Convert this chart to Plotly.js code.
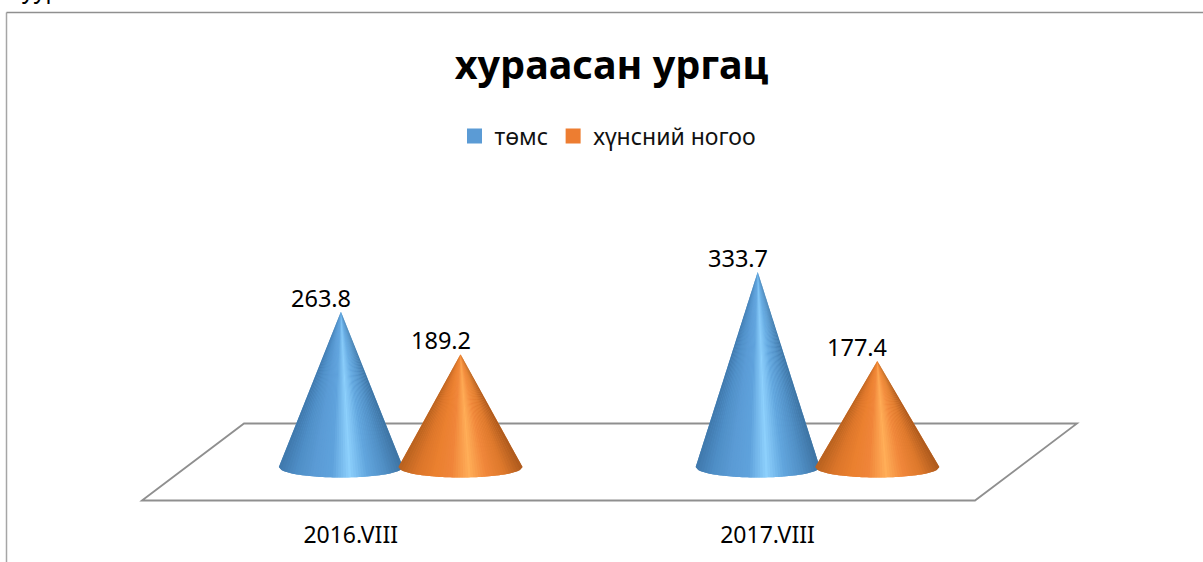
<!DOCTYPE html>
<html>
<head>
<meta charset="utf-8">
<script src="https://cdn.plot.ly/plotly-3.0.1.min.js"></script>
<style>html,body{margin:0;padding:0;background:#fff;overflow:hidden}</style>
</head>
<body>
<div id="chart" style="width:1203px;height:562px"></div>
<script>
var categories = ['2016.VIII', '2017.VIII'];
var seriesNames = ['төмс', 'хүнсний ногоо'];
var potatoValues = [263.8, 333.7];
var vegetableValues = [189.2, 177.4];
var legendColors = ['#5B9BD5', '#ED7D31'];
var blueShades = ['#3F78AC', '#4F8FC7', '#5B9BD5', '#5FA2DC', '#8DD0FC', '#62A6DE', '#5190C6', '#3E74A4'];
var orangeShades = ['#B8621F', '#DB752A', '#EA802F', '#F0853A', '#FFAE58', '#F0863A', '#DD792C', '#AE5A1D'];

var W = 1203, H = 562;
var pxPerCat = 416.8, cat0Px = 400.7, zeroPx = 462, pxPerVal = 0.5694, plotBottom = 516;
var fontFam = "'Noto Sans', sans-serif";

function hex(c){return [1,3,5].map(function(i){return parseInt(c.substr(i,2),16);});}
function shade(list,f){
  var p=f*(list.length-1),i=Math.min(Math.floor(p),list.length-2),t=p-i,a=hex(list[i]),b=hex(list[i+1]);
  return 'rgb('+a.map(function(v,k){return Math.round(v+(b[k]-v)*t);}).join(',')+')';
}
var traces = [];
var halfW = 62/pxPerCat, groupOff = 59.8/pxPerCat, baseY = -5/pxPerVal, ry = 10.5/pxPerVal, N = 48;
function arcY(a){return baseY-ry*Math.sqrt(Math.max(0,1-a*a));}
function cone(xc,val,shades){
  var sx=[xc],sy=[val];
  for(var k=0;k<=N;k++){var s=-1+2*k/N;sx.push(xc+s*halfW);sy.push(arcY(s));}
  sx.push(xc);sy.push(val);
  traces.push({type:'scatter',mode:'none',fill:'toself',hoverinfo:'skip',showlegend:false,x:sx,y:sy,
    fillgradient:{type:'horizontal',colorscale:shades.map(function(c,i){return [i/(shades.length-1),c];})}});
  for(var i=0;i<N;i++){
    var a=-1+2*i/N,b=-1+2*(i+1)/N,col=shade(shades,(i+.5)/N);
    traces.push({type:'scatter',mode:'none',fill:'toself',fillcolor:col,hoverinfo:'skip',showlegend:false,
      x:[xc,xc+a*halfW,xc+b*halfW,xc],y:[val,arcY(a),arcY(b),val]});
  }
}
categories.forEach(function(c,i){
  cone(i-groupOff,potatoValues[i],blueShades);
  cone(i+groupOff,vegetableValues[i],orangeShades);
});
seriesNames.forEach(function(n,k){
  traces.push({type:'scatter',mode:'markers',name:n,x:[null],y:[null],
    marker:{symbol:'square',size:15,color:legendColors[k]}});
});

var annotations = [];
function label(xc,val){
  annotations.push({x:xc,y:val,xref:'x',yref:'y',text:val.toFixed(1),showarrow:false,xshift:-20,yanchor:'bottom',yshift:-4,
    font:{family:fontFam,size:23.5,color:'#000'}});
}
categories.forEach(function(c,i){
  label(i-groupOff,potatoValues[i]);
  label(i+groupOff,vegetableValues[i]);
});
annotations.push({xref:'paper',yref:'paper',x:20/W,y:1,xanchor:'left',yanchor:'bottom',yshift:-7,text:'уур',showarrow:false,
  font:{family:fontFam,size:23,color:'#000'}});

var lineGray='#8F8F8F';
var topFrac = 1-12.5/plotBottom;
var shapes = [
  {type:'line',xref:'paper',yref:'paper',x0:6.5/W,y0:-(H-plotBottom)/plotBottom,x1:6.5/W,y1:topFrac,line:{color:'#A6A6A6',width:1.5}},
  {type:'line',xref:'paper',yref:'paper',x0:6.5/W,y0:topFrac,x1:1,y1:topFrac,line:{color:lineGray,width:1.5}},
  {type:'path',xref:'paper',yref:'paper',layer:'below',line:{color:lineGray,width:1.8},
   path:'M'+142/W+','+(1-500.5/plotBottom)+' L'+244/W+','+(1-423.5/plotBottom)+' L'+1077/W+','+(1-423.5/plotBottom)+' L'+975/W+','+(1-500.5/plotBottom)+' Z'}
];

var layout = {
  width:W,height:H,margin:{l:0,r:0,t:0,b:H-plotBottom,pad:0},
  paper_bgcolor:'#fff',plot_bgcolor:'rgba(0,0,0,0)',
  showlegend:true,hovermode:false,
  title:{text:'<b>хураасан ургац</b>',x:611.5/W,xanchor:'center',y:1-65/H,yanchor:'middle',
    font:{family:fontFam,size:39.5,color:'#000'}},
  legend:{orientation:'h',x:454.5/W,xanchor:'left',y:1-136/plotBottom,yanchor:'middle',
    font:{family:fontFam,size:23,color:'#111'},bgcolor:'rgba(0,0,0,0)',itemwidth:30},
  xaxis:{range:[-cat0Px/pxPerCat,(W-cat0Px)/pxPerCat],tickmode:'array',
    tickvals:categories.map(function(c,i){return i-50/pxPerCat;}),ticktext:categories,
    showgrid:false,zeroline:false,showline:false,ticks:'',ticklabelstandoff:3,
    tickfont:{family:fontFam,size:23,color:'#000'},fixedrange:true},
  yaxis:{range:[-(plotBottom-zeroPx)/pxPerVal,zeroPx/pxPerVal],visible:false,fixedrange:true},
  shapes:shapes,annotations:annotations
};
Plotly.newPlot('chart',traces,layout,{staticPlot:true,displayModeBar:false});
</script>
</body>
</html>
